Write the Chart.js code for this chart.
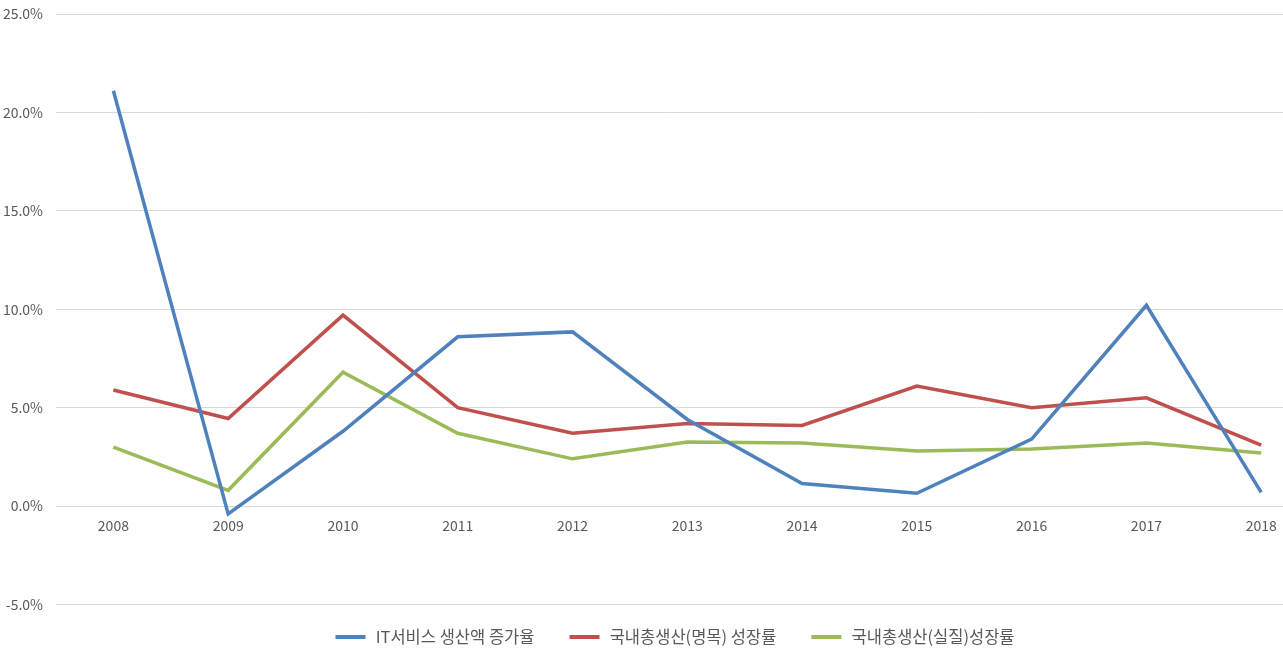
<!DOCTYPE html>
<html>
<head>
<meta charset="utf-8">
<script src="https://cdn.jsdelivr.net/npm/chart.js@4/dist/chart.umd.min.js"></script>
<style>
  html, body { margin: 0; padding: 0; background: #fff; }
  #wrap { width: 1283px; height: 655px; }
</style>
</head>
<body>
<div id="wrap"><canvas id="chart"></canvas></div>
<script>
// --- datos ---
const years = [2008, 2009, 2010, 2011, 2012, 2013, 2014, 2015, 2016, 2017, 2018];
const itService = [21.1, -0.4, 3.8, 8.6, 8.85, 4.4, 1.15, 0.65, 3.4, 10.2, 0.7];
const gdpNominal = [5.9, 4.45, 9.7, 5.0, 3.7, 4.2, 4.1, 6.1, 5.0, 5.5, 3.1];
const gdpReal = [3.0, 0.8, 6.8, 3.7, 2.4, 3.25, 3.2, 2.8, 2.9, 3.2, 2.7];
const seriesNames = ['IT서비스 생산액 증가율', '국내총생산(명목) 성장률', '국내총생산(실질)성장률'];
const seriesColors = ['#4F81BD', '#C0504D', '#9BBB59'];
const yTicks = [-5, 0, 5, 10, 15, 20, 25];

const FONT = "'Noto Sans CJK KR', 'Noto Sans', sans-serif";
Chart.defaults.font.family = FONT;
Chart.defaults.color = '#595959';

function toPoints(vals) {
  return vals.map((v, i) => ({ x: years[i], y: v }));
}

// muestra de leyenda: línea de 30px con margen a la izquierda
function legendLine(color) {
  const c = document.createElement('canvas');
  c.width = 43; c.height = 4;
  const ctx = c.getContext('2d');
  ctx.fillStyle = color;
  ctx.fillRect(11, 0, 30, 4);
  return c;
}

const datasets = [itService, gdpNominal, gdpReal].map((vals, i) => ({
  label: seriesNames[i],
  data: toPoints(vals),
  borderColor: seriesColors[i],
  backgroundColor: seriesColors[i],
  borderWidth: 3.5,
  pointRadius: 0,
  pointStyle: legendLine(seriesColors[i]),
  tension: 0,
  borderJoinStyle: 'miter'
}));

new Chart(document.getElementById('chart').getContext('2d'), {
  type: 'line',
  data: { datasets },
  options: {
    responsive: true,
    maintainAspectRatio: false,
    animation: false,
    layout: { padding: { top: 14, right: 0, left: 0, bottom: 0 } },
    plugins: {
      tooltip: { enabled: false },
      legend: {
        position: 'bottom',
        fullSize: false,
        labels: {
          usePointStyle: true,
          pointStyleWidth: 43,
          padding: 24,
          color: '#595959',
          font: { size: 16.5, family: FONT }
        }
      }
    },
    scales: {
      x: {
        type: 'linear',
        position: { y: 0 },
        min: 2007.5,
        max: 2018.19,
        afterBuildTicks: (scale) => { scale.ticks = years.map(v => ({ value: v })); },
        grid: { display: false },
        border: { display: false },
        ticks: {
          padding: 3,
          maxRotation: 0,
          color: '#595959',
          font: { size: 14 },
          callback: (v) => String(v)
        }
      },
      y: {
        min: -5,
        max: 25,
        afterBuildTicks: (scale) => { scale.ticks = yTicks.map(v => ({ value: v })); },
        afterFit: (scale) => { scale.width = 56; scale.paddingTop = 0; scale.paddingBottom = 0; },
        grid: { color: '#D9D9D9', lineWidth: 1, drawTicks: false },
        border: { display: false },
        ticks: {
          padding: 13,
          color: '#595959',
          font: { size: 14 },
          callback: (v) => v.toFixed(1) + '%'
        }
      }
    }
  }
});
</script>
</body>
</html>
